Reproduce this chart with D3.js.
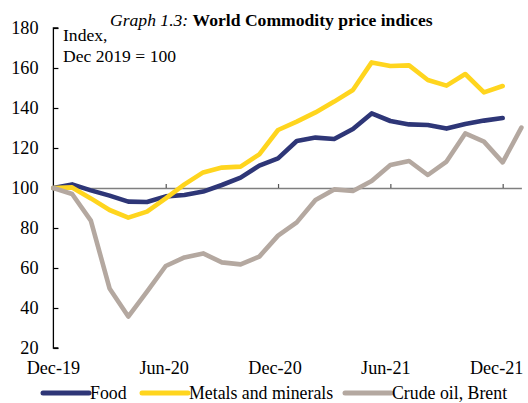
<!DOCTYPE html>
<html><head><meta charset="utf-8">
<script src="https://cdn.jsdelivr.net/npm/d3@7"></script>
<style>body{margin:0;background:#fff}svg{display:block}text{font-family:"Liberation Serif","Times New Roman",serif;fill:#000}</style>
</head><body>
<svg id="c" width="528" height="403"></svg>
<script>
const months = ["Dec-19","Jan-20","Feb-20","Mar-20","Apr-20","May-20","Jun-20","Jul-20","Aug-20","Sep-20","Oct-20","Nov-20","Dec-20",
"Jan-21","Feb-21","Mar-21","Apr-21","May-21","Jun-21","Jul-21","Aug-21","Sep-21","Oct-21","Nov-21","Dec-21","Jan-22"];
const food   = [100,101.8,98.8,96.2,93.2,93.0,95.8,96.5,98.2,101.5,105.2,111.2,114.8,123.5,125.2,124.5,129.5,137.3,133.5,131.8,131.5,129.7,132,133.7,135,null];
const metals = [100,100.3,94.8,89,85.2,88.2,94.8,101.8,107.8,110.2,110.7,116.8,129,133.2,137.8,143.2,149,162.8,161,161.3,154,151.2,157,147.8,151,null];
const crude  = [100,97,83.7,49.8,35.7,48.2,61,65.3,67.3,62.8,61.8,65.7,76.2,82.8,94,99.3,98.5,103.5,111.5,113.5,106.5,113.2,127.3,123.2,112.8,130.2];
const yTicks = [20,40,60,80,100,120,140,160,180];
const xLabels = ["Dec-19","Jun-20","Dec-20","Jun-21","Dec-21"];
const series = [
  {name:"Food", values:food, color:"#2E3677"},
  {name:"Metals and minerals", values:metals, color:"#FFD51E"},
  {name:"Crude oil, Brent", values:crude, color:"#B4A8A0"}
];

const svg = d3.select("#c");
const x = d3.scalePoint().domain(months).range([53.4, 521.4]);
const y = d3.scaleLinear().domain([20,180]).range([348,28]);

// title
const t = svg.append("text").attr("x",110).attr("y",26).attr("font-size",17.6);
t.append("tspan").attr("font-style","italic").text("Graph 1.3: ");
t.append("tspan").attr("font-weight","bold").text("World Commodity price indices");

// y axis
const ya = svg.append("g").attr("transform","translate(53.4,0)")
  .call(d3.axisRight(y).tickValues(yTicks).tickSize(5).tickFormat(""));
ya.select(".domain").attr("d","M5,28H0V348H5").attr("stroke","#000").attr("stroke-width",1.3).attr("fill","none");
ya.selectAll(".tick line").attr("stroke","#000").attr("stroke-width",1.2);
svg.append("g").selectAll("text").data(yTicks).join("text")
  .attr("x",38.5).attr("y",d=>y(d)+6).attr("text-anchor","end").attr("font-size",18.2).text(d=>d);

// horizontal axis at 100
const xa = svg.append("g").attr("transform",`translate(0,${y(100)})`)
  .call(d3.axisTop(x).tickValues(xLabels).tickSize(4).tickFormat("").tickSizeOuter(0));
xa.select(".domain").attr("stroke","#7f7f7f").attr("stroke-width",1.5);
xa.selectAll(".tick line").attr("stroke","#555").attr("stroke-width",1.2);
xa.selectAll(".tick").filter(d=>d==="Dec-19").remove();

// x labels
svg.append("g").selectAll("text").data(xLabels).join("text")
  .attr("x",(d,i)=>x(d)-1.5*i).attr("y",374).attr("text-anchor","middle").attr("font-size",18.2).text(d=>d);

// unit label
svg.append("text").attr("x",63).attr("y",41).attr("font-size",17.6).text("Index,");
svg.append("text").attr("x",63).attr("y",62).attr("font-size",17.6).text("Dec 2019 = 100");

// lines
const line = d3.line().defined(d=>d.v!=null).x(d=>x(d.m)).y(d=>y(d.v));
svg.append("g").selectAll("path").data(series).join("path")
  .attr("d",s=>line(s.values.map((v,i)=>({m:months[i],v}))))
  .attr("fill","none").attr("stroke",s=>s.color).attr("stroke-width",4.6)
  .attr("stroke-linejoin","round").attr("stroke-linecap","round");

// legend
const legX = [43,142,345];
const lg = svg.append("g").selectAll("g").data(series).join("g")
  .attr("transform",(d,i)=>`translate(${legX[i]},393)`);
lg.append("line").attr("x1",0).attr("x2",46).attr("stroke",d=>d.color).attr("stroke-width",5).attr("stroke-linecap","round");
lg.append("text").attr("x",47).attr("y",6).attr("font-size",17.8).text(d=>d.name);
</script>
</body></html>
